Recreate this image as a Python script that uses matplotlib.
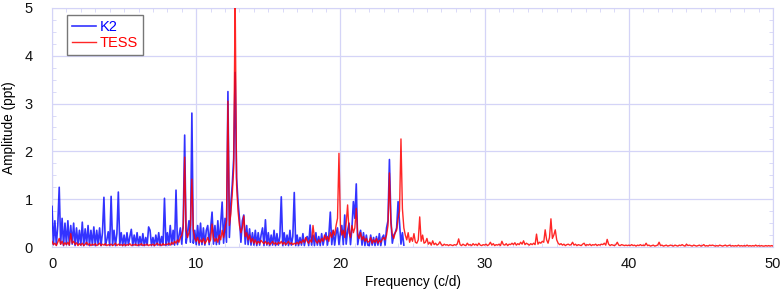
import numpy as np
import matplotlib
matplotlib.use('Agg')
import matplotlib.pyplot as plt
from matplotlib.ticker import MultipleLocator

plt.rcParams['font.family'] = ['Liberation Sans', 'DejaVu Sans']

# K2 amplitude spectrum (ppt), sampled every 0.1 c/d from 0 to 24.4
k2_step = 0.1
k2_amp = [
    0.85, 0.05, 0.55, 0.04, 0.45, 1.25, 0.06, 0.60, 0.03, 0.50,
    0.05, 0.55, 0.04, 0.45, 0.06, 0.50, 0.03, 0.40, 0.05, 0.35,
    0.04, 0.52, 0.03, 0.38, 0.05, 0.45, 0.03, 0.35, 0.04, 0.42,
    0.03, 0.35, 0.05, 0.40, 0.03, 0.30, 1.04, 0.04, 0.15, 0.32,
    0.03, 1.06, 0.04, 0.35, 0.03, 0.28, 1.15, 0.04, 0.30, 0.03,
    0.25, 0.03, 0.30, 0.04, 0.22, 0.37, 0.03, 0.25, 0.04, 0.30,
    0.03, 0.22, 0.04, 0.28, 0.03, 0.20, 0.04, 0.42, 0.35, 0.03,
    0.20, 0.03, 0.25, 0.04, 0.30, 0.03, 0.22, 0.04, 1.02, 0.03,
    0.30, 0.04, 0.45, 0.05, 0.35, 0.04, 1.19, 0.05, 0.22, 0.40,
    0.06, 0.50, 2.34, 0.08, 0.30, 0.55, 0.10, 2.80, 0.08, 0.35,
    0.05, 0.45, 0.04, 0.50, 0.05, 0.40, 0.04, 0.35, 0.45, 0.05,
    0.40, 0.73, 0.06, 0.45, 0.05, 0.55, 0.06, 0.50, 0.94, 0.08,
    0.60, 0.10, 3.25, 0.20, 0.90, 1.30, 1.85, 3.65, 1.45, 0.95,
    0.60, 0.10, 0.55, 0.67, 0.06, 0.45, 0.05, 0.38, 0.04, 0.30,
    0.04, 0.35, 0.03, 0.30, 0.04, 0.25, 0.40, 0.03, 0.57, 0.04,
    0.30, 0.03, 0.25, 0.04, 0.35, 0.03, 0.28, 0.04, 0.22, 1.05,
    0.03, 0.30, 0.04, 0.25, 0.03, 0.35, 0.04, 0.22, 1.14, 0.03,
    0.25, 0.03, 0.20, 0.04, 0.28, 0.03, 0.18, 0.22, 0.03, 0.46,
    0.04, 0.25, 0.03, 0.30, 0.04, 0.22, 0.03, 0.28, 0.04, 0.20,
    0.30, 0.04, 0.25, 0.73, 0.05, 0.35, 0.04, 0.28, 0.40, 0.05,
    0.30, 0.45, 0.05, 0.67, 0.06, 0.35, 0.50, 0.05, 0.40, 0.95,
    0.60, 1.32, 0.05, 0.25, 0.35, 0.04, 0.30, 0.03, 0.25, 0.04,
    0.03, 0.25, 0.04, 0.20, 0.03, 0.22, 0.04, 0.28, 0.03, 0.20,
    0.25, 0.04, 0.40, 0.55, 1.83, 0.60, 0.08, 0.25, 0.30, 0.40,
    0.95, 0.50, 0.06, 0.30, 0.04,
]

# TESS amplitude spectrum (ppt), sampled every 0.1 c/d from 0 to 50
tess_step = 0.1
tess_amp = [
    0.12, 0.05, 0.08, 0.03, 0.10, 0.18, 0.06, 0.12, 0.04, 0.09,
    0.05, 0.10, 0.04, 0.28, 0.08, 0.12, 0.05, 0.09, 0.03, 0.07,
    0.04, 0.08, 0.03, 0.06, 0.10, 0.04, 0.07, 0.03, 0.06, 0.04,
    0.07, 0.03, 0.05, 0.08, 0.03, 0.06, 0.04, 0.07, 0.03, 0.05,
    0.04, 0.06, 0.03, 0.05, 0.08, 0.03, 0.06, 0.04, 0.05, 0.03,
    0.06, 0.03, 0.05, 0.04, 0.07, 0.03, 0.05, 0.04, 0.06, 0.03,
    0.05, 0.04, 0.07, 0.03, 0.05, 0.04, 0.06, 0.03, 0.05, 0.04,
    0.06, 0.03, 0.05, 0.08, 0.04, 0.06, 0.03, 0.07, 0.04, 0.06,
    0.05, 0.08, 0.04, 0.10, 0.06, 0.12, 0.08, 0.15, 0.10, 0.20,
    0.25, 0.40, 1.88, 0.35, 0.20, 0.30, 0.45, 1.42, 0.35, 0.18,
    0.12, 0.20, 0.08, 0.15, 0.10, 0.18, 0.07, 0.12, 0.20, 0.10,
    0.15, 0.48, 0.20, 0.12, 0.18, 0.10, 0.25, 0.15, 0.35, 0.20,
    0.40, 0.55, 3.05, 0.45, 0.70, 1.10, 1.65, 5.30, 1.30, 0.75,
    0.45, 0.30, 0.40, 0.65, 0.22, 0.30, 0.15, 0.25, 0.10, 0.18,
    0.08, 0.15, 0.06, 0.12, 0.08, 0.14, 0.10, 0.07, 0.12, 0.06,
    0.10, 0.05, 0.08, 0.12, 0.06, 0.09, 0.05, 0.10, 0.07, 0.12,
    0.06, 0.10, 0.05, 0.08, 0.12, 0.06, 0.09, 0.05, 0.08, 0.06,
    0.10, 0.06, 0.12, 0.08, 0.15, 0.10, 0.20, 0.12, 0.08, 0.15,
    0.10, 0.45, 0.20, 0.12, 0.08, 0.15, 0.10, 0.18, 0.12, 0.25,
    0.15, 0.22, 0.12, 0.30, 0.20, 0.35, 0.25, 0.45, 0.60, 1.96,
    0.45, 0.25, 0.35, 0.20, 0.50, 0.88, 0.30, 0.20, 0.45, 0.30,
    0.40, 0.81, 0.25, 0.18, 0.30, 0.15, 0.22, 0.12, 0.18, 0.10,
    0.12, 0.20, 0.08, 0.15, 0.10, 0.18, 0.08, 0.14, 0.10, 0.16,
    0.20, 0.15, 0.25, 0.45, 1.55, 0.50, 0.25, 0.18, 0.30, 0.35,
    0.60, 0.75, 2.26, 0.80, 0.40, 0.25, 0.15, 0.30, 0.10, 0.20,
    0.12, 0.28, 0.10, 0.08, 0.15, 0.63, 0.12, 0.25, 0.08, 0.10,
    0.18, 0.06, 0.10, 0.04, 0.13, 0.05, 0.08, 0.04, 0.06, 0.11,
    0.05, 0.03, 0.06, 0.04, 0.05, 0.03, 0.05, 0.04, 0.03, 0.05,
    0.04, 0.06, 0.17, 0.05, 0.03, 0.06, 0.04, 0.03, 0.08, 0.04,
    0.05, 0.03, 0.07, 0.04, 0.06, 0.03, 0.08, 0.04, 0.03, 0.05,
    0.04, 0.06, 0.03, 0.05, 0.10, 0.04, 0.07, 0.03, 0.05, 0.04,
    0.06, 0.03, 0.12, 0.05, 0.04, 0.07, 0.03, 0.06, 0.05, 0.08,
    0.05, 0.09, 0.04, 0.07, 0.05, 0.10, 0.06, 0.13, 0.05, 0.08,
    0.06, 0.04, 0.07, 0.05, 0.08, 0.05, 0.27, 0.06, 0.10, 0.08,
    0.12, 0.10, 0.36, 0.15, 0.08, 0.20, 0.59, 0.18, 0.25, 0.36,
    0.15, 0.08, 0.05, 0.07, 0.04, 0.06, 0.03, 0.05, 0.06, 0.04,
    0.05, 0.10, 0.04, 0.06, 0.03, 0.05, 0.04, 0.03, 0.06, 0.08,
    0.03, 0.05, 0.04, 0.06, 0.03, 0.05, 0.04, 0.06, 0.03, 0.05,
    0.04, 0.06, 0.05, 0.08, 0.04, 0.16, 0.06, 0.03, 0.05, 0.04,
    0.03, 0.05, 0.10, 0.04, 0.03, 0.05, 0.04, 0.03, 0.04, 0.03,
    0.04, 0.03, 0.05, 0.03, 0.04, 0.02, 0.04, 0.03, 0.05, 0.03,
    0.04, 0.03, 0.08, 0.03, 0.04, 0.02, 0.03, 0.04, 0.02, 0.03,
    0.04, 0.10, 0.03, 0.04, 0.02, 0.03, 0.04, 0.02, 0.03, 0.04,
    0.03, 0.02, 0.04, 0.03, 0.02, 0.04, 0.03, 0.05, 0.03, 0.02,
    0.06, 0.03, 0.04, 0.03, 0.02, 0.04, 0.03, 0.02, 0.03, 0.04,
    0.02, 0.03, 0.05, 0.02, 0.03, 0.02, 0.04, 0.03, 0.04, 0.03,
    0.02, 0.03, 0.02, 0.04, 0.03, 0.02, 0.03, 0.04, 0.02, 0.03,
    0.04, 0.02, 0.03, 0.02, 0.03, 0.02, 0.04, 0.02, 0.03, 0.02,
    0.03, 0.02, 0.04, 0.02, 0.03, 0.02, 0.03, 0.02, 0.04, 0.02,
    0.03, 0.02, 0.03, 0.02, 0.02, 0.03, 0.02, 0.03, 0.02, 0.03,
    0.02,
]

k2_freq = np.arange(len(k2_amp)) * k2_step
tess_freq = np.arange(len(tess_amp)) * tess_step

grid_col = '#d4d4f7'

fig = plt.figure(figsize=(7.82, 2.92), dpi=100)
ax = fig.add_axes([0.0665, 0.154, 0.922, 0.819])

ax.plot(k2_freq, k2_amp, color='#0000ff', lw=1.2, alpha=0.8, label='K2', zorder=3)
ax.plot(tess_freq, tess_amp, color='#ff0000', lw=1.0, alpha=0.85, label='TESS', zorder=4)

ax.set_xlim(0, 50)
ax.set_ylim(0, 5)
ax.xaxis.set_major_locator(MultipleLocator(10))
ax.xaxis.set_minor_locator(MultipleLocator(1))
ax.yaxis.set_major_locator(MultipleLocator(1))
ax.yaxis.set_minor_locator(MultipleLocator(0.25))
ax.grid(True, which='major', color=grid_col, lw=0.9, zorder=0)
for s in ax.spines.values():
    s.set_color(grid_col)
ax.tick_params(which='both', direction='in', top=True, right=True, color=grid_col,
               labelsize=10.5, labelcolor='#111111')
ax.tick_params(which='major', length=0)
ax.tick_params(axis='x', which='major', pad=7)
ax.tick_params(axis='y', which='major', pad=14)
ax.tick_params(which='minor', length=3)

ax.set_xlabel('Frequency (c/d)', fontsize=9.8, labelpad=3)
ax.set_ylabel('Amplitude (ppt)', fontsize=9.8, labelpad=6)

leg = ax.legend(loc='upper left', bbox_to_anchor=(0.021, 0.97), borderaxespad=0,
                fontsize=10.5, fancybox=False, framealpha=1, edgecolor='#777777',
                handlelength=1.6, handletextpad=0.3, borderpad=0.35,
                labelspacing=0.1)
leg.get_frame().set_linewidth(1.0)
for t, c in zip(leg.get_texts(), ['#0000ff', '#ff0000']):
    t.set_color(c)

fig.savefig('out.png', dpi=100)
